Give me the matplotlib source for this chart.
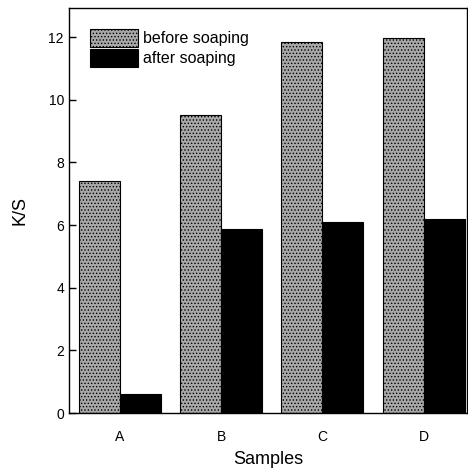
import matplotlib
matplotlib.use('Agg')
import matplotlib.pyplot as plt
import numpy as np

samples = ['A', 'B', 'C', 'D']
before_soaping = [7.4, 9.5, 11.83, 11.97]
after_soaping = [0.6, 5.87, 6.1, 6.2]

plt.rcParams['font.family'] = ['Liberation Sans', 'DejaVu Sans']
plt.rcParams['hatch.color'] = '#4a4a4a'
plt.rcParams['hatch.linewidth'] = 0.6

fig = plt.figure(figsize=(4.68, 4.71), dpi=100)
ax = fig.add_axes([0.147, 0.123, 0.851, 0.86])

x = np.arange(len(samples))
w = 0.405
ax.bar(x - w / 2, before_soaping, w, facecolor='#a8a8a8', edgecolor='black',
       linewidth=0.8, hatch='.....', label='before soaping')
ax.bar(x + w / 2, after_soaping, w, facecolor='black', edgecolor='black',
       linewidth=0.8, label='after soaping')

ax.set_xlim(-0.505, 3.43)
ax.set_ylim(0, 12.93)
ax.set_yticks([0, 2, 4, 6, 8, 10, 12])
ax.set_xticks(x)
ax.set_xticklabels(samples, fontsize=10)
ax.tick_params(axis='y', direction='in', length=5, labelsize=10, width=1)
ax.tick_params(axis='x', length=0, pad=12)
ax.set_xlabel('Samples', fontsize=13, labelpad=5)
ax.set_ylabel('K/S', fontsize=13, labelpad=14)
for s in ax.spines.values():
    s.set_linewidth(1.0)

ax.legend(loc='upper left', bbox_to_anchor=(0.025, 0.975), frameon=False,
          fontsize=11.5, handlelength=3.0, handleheight=1.3,
          labelspacing=0.15, handletextpad=0.3, borderaxespad=0.3)

fig.savefig('out.png', dpi=100)
